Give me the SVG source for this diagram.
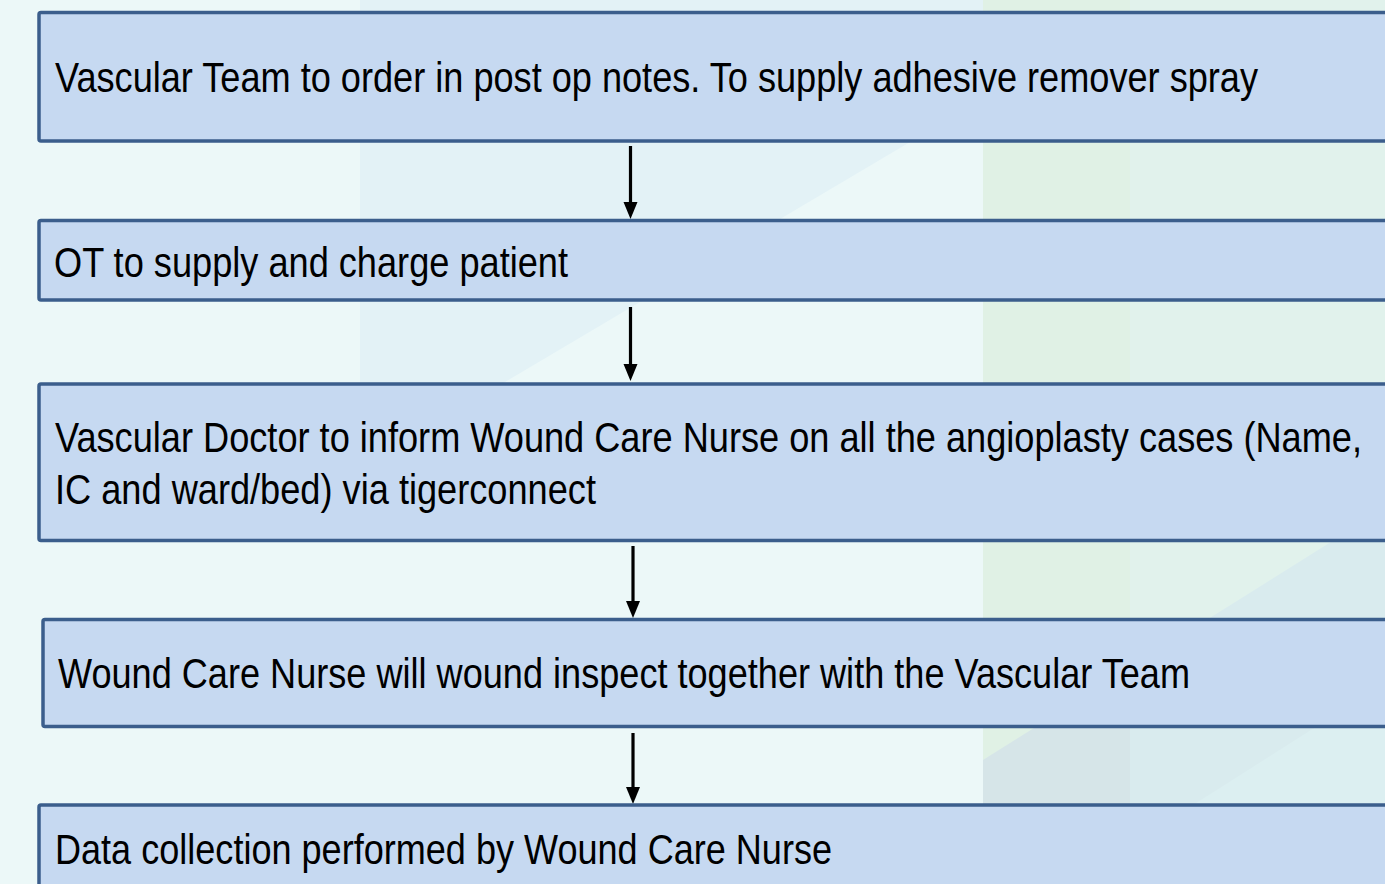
<svg xmlns="http://www.w3.org/2000/svg" width="1385" height="884" viewBox="0 0 1385 884">
<defs>
<style>
.box{fill:#C6D9F1;stroke:#3B5E8C;stroke-width:3.5}
.lbl{font-family:"Liberation Sans Narrow","Liberation Sans",Arial,sans-serif;font-size:42px;fill:#000}
.conn{stroke:#000;stroke-width:3.2;fill:none}
</style>
<marker id="ah" markerUnits="userSpaceOnUse" markerWidth="18" markerHeight="15" refX="2" refY="7" orient="auto" viewBox="0 0 18 14">
<path d="M0,0 L17,7 L0,14 z" fill="#000"/>
</marker>
</defs>
<g id="background">
<rect x="0" y="0" width="1385" height="884" fill="#ECF8F8"/>
<polygon points="360,0 983,0 983,99 905,145 770,225 495,388 360,468" fill="#E3F2F6"/>
<rect x="983" y="0" width="147" height="884" fill="#E0F1E5"/>
<rect x="1130" y="0" width="255" height="884" fill="#E1F2EC"/>
<polygon points="1130,668 1385,508 1385,884 1130,884" fill="#D9EBEE"/>
<polygon points="983,760 1130,668 1130,884 983,884" fill="#D6E5E8"/>
<polygon points="1193,805 1385,683 1385,884 1068,884" fill="#DCEFF1"/>
</g>
<g id="connectors">
<line class="conn" x1="630.5" y1="146" x2="630.5" y2="204" marker-end="url(#ah)"/>
<line class="conn" x1="630.5" y1="307" x2="630.5" y2="366" marker-end="url(#ah)"/>
<line class="conn" x1="633" y1="546" x2="633" y2="603" marker-end="url(#ah)"/>
<line class="conn" x1="633" y1="733" x2="633" y2="789" marker-end="url(#ah)"/>
</g>
<g id="node1">
<rect class="box" x="39" y="12.5" width="1400" height="128.5" rx="2"/>
<text class="lbl" x="55" y="92" textLength="1203" lengthAdjust="spacingAndGlyphs">Vascular Team to order in post op notes. To supply adhesive remover spray</text>
</g>
<g id="node2">
<rect class="box" x="39" y="220.5" width="1400" height="79.5" rx="2"/>
<text class="lbl" x="54" y="277" textLength="514" lengthAdjust="spacingAndGlyphs">OT to supply and charge patient</text>
</g>
<g id="node3">
<rect class="box" x="39" y="384" width="1400" height="156.5" rx="2"/>
<text class="lbl" x="55" y="452" textLength="1307" lengthAdjust="spacingAndGlyphs">Vascular Doctor to inform Wound Care Nurse on all the angioplasty cases (Name,</text>
<text class="lbl" x="55" y="504" textLength="541" lengthAdjust="spacingAndGlyphs">IC and ward/bed) via tigerconnect</text>
</g>
<g id="node4">
<rect class="box" x="43" y="619.5" width="1400" height="107" rx="2"/>
<text class="lbl" x="58" y="688" textLength="1132" lengthAdjust="spacingAndGlyphs">Wound Care Nurse will wound inspect together with the Vascular Team</text>
</g>
<g id="node5">
<rect class="box" x="39" y="805" width="1400" height="120" rx="2"/>
<text class="lbl" x="55" y="864" textLength="777" lengthAdjust="spacingAndGlyphs">Data collection performed by Wound Care Nurse</text>
</g>
</svg>
